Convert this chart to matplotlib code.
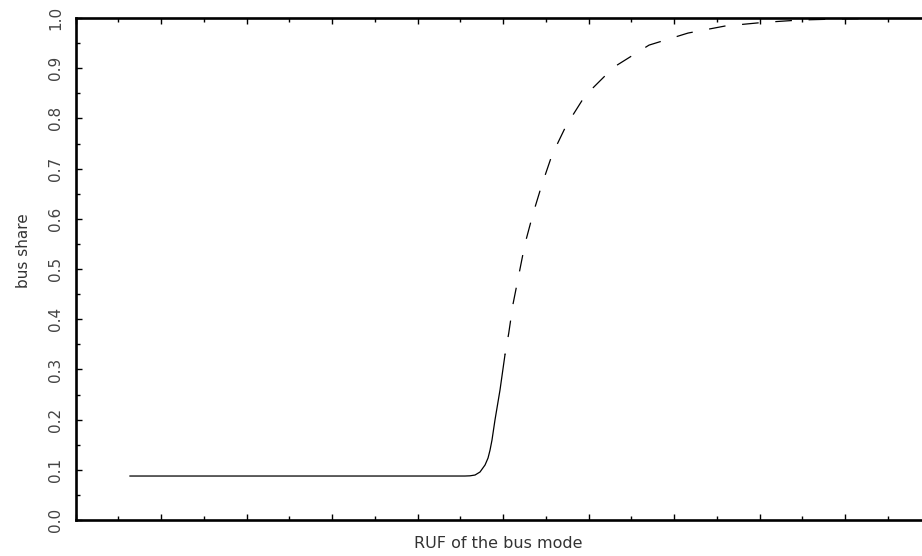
import matplotlib
matplotlib.use('Agg')
import matplotlib.pyplot as plt
from matplotlib.ticker import MultipleLocator, FormatStrFormatter

# solid part of the curve
x_solid = [0.637, 4.555, 4.614, 4.673, 4.731, 4.790, 4.825, 4.848, 4.871, 4.906, 4.965, 5.023]
y_solid = [0.0876, 0.0876, 0.0880, 0.0896, 0.0956, 0.1096, 0.1235, 0.139, 0.159, 0.199, 0.259, 0.329]

# dashed part of the curve
x_dash = [5.023, 5.067, 5.117, 5.187, 5.257, 5.351, 5.453, 5.573, 5.737, 5.959,
          6.295, 6.708, 7.164, 7.596, 8.029, 8.474, 8.918, 9.363]
y_dash = [0.329, 0.372, 0.430, 0.490, 0.550, 0.610, 0.667, 0.727, 0.785, 0.845,
          0.902, 0.946, 0.970, 0.984, 0.991, 0.996, 0.998, 0.999]

plt.rcParams['lines.scale_dashes'] = False

fig = plt.figure(figsize=(9.22, 5.56), dpi=100)
ax = fig.add_axes([75.5 / 922, 36 / 556, 855 / 922, 502 / 556])

ax.plot(x_solid, y_solid, color='black', lw=0.9)
ax.plot(x_dash, y_dash, color='black', lw=0.9, linestyle=(11, (12, 12)))

ax.set_xlim(0, 10)
ax.set_ylim(0, 1)

for s in ['left', 'bottom', 'top']:
    ax.spines[s].set_linewidth(1.9)
ax.spines['right'].set_visible(False)

ax.xaxis.set_major_locator(MultipleLocator(1))
ax.xaxis.set_minor_locator(MultipleLocator(0.5))
ax.yaxis.set_major_locator(MultipleLocator(0.1))
ax.yaxis.set_minor_locator(MultipleLocator(0.05))
ax.yaxis.set_major_formatter(FormatStrFormatter('%.1f'))

ax.tick_params(axis='x', which='both', direction='in', top=True, bottom=True,
               labelbottom=False, width=1)
ax.tick_params(axis='y', which='both', direction='in', left=True, right=False,
               width=1)
ax.tick_params(which='major', length=4.3)
ax.tick_params(which='minor', length=2.9)
ax.tick_params(axis='y', which='major', pad=9, labelsize=11, labelcolor='#444444')
for lab in ax.get_yticklabels():
    lab.set_rotation(90)
    lab.set_va('center')

fig.text(498 / 922, 1 - 543 / 556, 'RUF of the bus mode', ha='center', va='center',
         fontsize=11.5, color='#333333')
fig.text(23 / 922, 1 - 251 / 556, 'bus share', rotation=90, ha='center', va='center',
         fontsize=11, color='#333333')

fig.savefig('out.png', dpi=100)
